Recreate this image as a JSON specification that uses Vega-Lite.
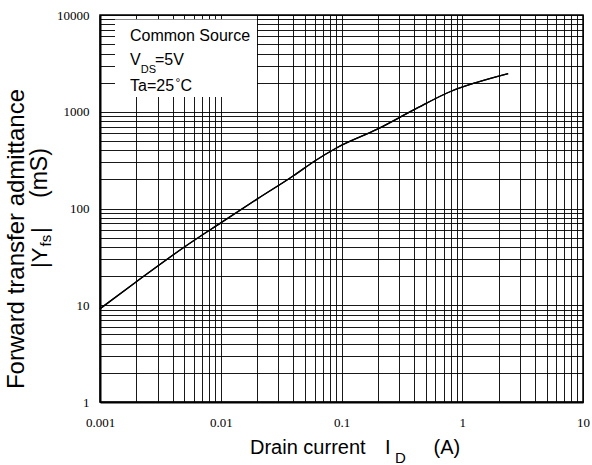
{
  "$schema": "https://vega.github.io/schema/vega-lite/v6.json",
  "autosize": {"type": "none"},
  "padding": {"left": 100, "top": 15, "right": 9, "bottom": 63},
  "width": 483,
  "height": 387,
  "background": "white",
  "data": {"values": [{}]},
  "config": {
    "view": {"stroke": "black", "strokeWidth": 1.5},
    "text": {"font": "Liberation Sans", "color": "black", "align": "left", "baseline": "alphabetic"}
  },
  "datasets": {
    "curve": [
      {"id": 0.001, "yfs": 9.2},
      {"id": 0.002, "yfs": 17.5},
      {"id": 0.005, "yfs": 40},
      {"id": 0.01, "yfs": 71},
      {"id": 0.02, "yfs": 125},
      {"id": 0.04, "yfs": 218},
      {"id": 0.06, "yfs": 310},
      {"id": 0.09, "yfs": 420},
      {"id": 0.2, "yfs": 665},
      {"id": 0.4, "yfs": 1050},
      {"id": 0.8, "yfs": 1620},
      {"id": 1.3, "yfs": 2000},
      {"id": 2.4, "yfs": 2480}
    ]
  },
  "layer": [
    {
      "data": {"name": "curve"},
      "mark": {"type": "line", "color": "black", "strokeWidth": 1.3, "interpolate": "monotone"},
      "encoding": {
        "x": {
          "field": "id", "type": "quantitative",
          "scale": {"type": "log", "domain": [0.001, 10], "nice": false},
          "axis": {
            "title": null,
            "values": [0.001,0.002,0.003,0.004,0.005,0.006,0.007,0.008,0.009,0.01,0.02,0.03,0.04,0.05,0.06,0.07,0.08,0.09,0.1,0.2,0.3,0.4,0.5,0.6,0.7,0.8,0.9,1,2,3,4,5,6,7,8,9,10],
            "grid": true, "gridColor": "black", "gridWidth": 1, "gridOpacity": 0.9,
            "ticks": false,
            "domain": true, "domainColor": "black", "domainWidth": 2,
            "labelExpr": "abs(log(datum.value)/LN10 - round(log(datum.value)/LN10)) < 0.001 ? toString(datum.value) : ''",
            "labelFont": "Liberation Serif", "labelFontSize": 13, "labelColor": "black",
            "labelPadding": 14, "labelOverlap": false, "labelFlush": false
          }
        },
        "y": {
          "field": "yfs", "type": "quantitative",
          "scale": {"type": "log", "domain": [1, 10000], "nice": false},
          "axis": {
            "title": null,
            "values": [1,2,3,4,5,6,7,8,9,10,20,30,40,50,60,70,80,90,100,200,300,400,500,600,700,800,900,1000,2000,3000,4000,5000,6000,7000,8000,9000,10000],
            "grid": true, "gridColor": "black", "gridWidth": 1, "gridOpacity": 0.9,
            "ticks": false,
            "domain": true, "domainColor": "black", "domainWidth": 2,
            "labelExpr": "abs(log(datum.value)/LN10 - round(log(datum.value)/LN10)) < 0.001 ? toString(datum.value) : ''",
            "labelFont": "Liberation Serif", "labelFontSize": 13, "labelColor": "black",
            "labelPadding": 11, "labelOverlap": false, "labelFlush": false
          }
        }
      }
    },
    {
      "mark": {"type": "rect", "fill": "white", "stroke": null},
      "encoding": {
        "x": {"datum": 0.001331, "type": "quantitative", "title": null},
        "x2": {"datum": 0.01996},
        "y": {"datum": 8985, "type": "quantitative", "title": null},
        "y2": {"datum": 1421}
      }
    },
    {
      "data": {"name": "curve"},
      "mark": {"type": "line", "color": "black", "strokeWidth": 1.3, "interpolate": "monotone"},
      "encoding": {
        "x": {"field": "id", "type": "quantitative", "title": null},
        "y": {"field": "yfs", "type": "quantitative", "title": null}
      }
    },
    {
      "mark": {"type": "text", "fontSize": 16, "text": "Common Source"},
      "encoding": {"x": {"datum": 0.001772, "type": "quantitative"}, "y": {"datum": 5426, "type": "quantitative"}}
    },
    {
      "mark": {"type": "text", "fontSize": 16, "text": "V"},
      "encoding": {"x": {"datum": 0.001772, "type": "quantitative"}, "y": {"datum": 3042, "type": "quantitative"}}
    },
    {
      "mark": {"type": "text", "fontSize": 11, "text": "DS"},
      "encoding": {"x": {"datum": 0.002173, "type": "quantitative"}, "y": {"datum": 2533, "type": "quantitative"}}
    },
    {
      "mark": {"type": "text", "fontSize": 16, "text": "=5V"},
      "encoding": {"x": {"datum": 0.002855, "type": "quantitative"}, "y": {"datum": 3042, "type": "quantitative"}}
    },
    {
      "mark": {"type": "text", "fontSize": 16, "text": "Ta=25"},
      "encoding": {"x": {"datum": 0.001772, "type": "quantitative"}, "y": {"datum": 1651, "type": "quantitative"}}
    },
    {
      "mark": {"type": "text", "fontSize": 12, "text": "°"},
      "encoding": {"x": {"datum": 0.00422, "type": "quantitative"}, "y": {"datum": 1790, "type": "quantitative"}}
    },
    {
      "mark": {"type": "text", "fontSize": 16, "text": "C"},
      "encoding": {"x": {"datum": 0.004642, "type": "quantitative"}, "y": {"datum": 1651, "type": "quantitative"}}
    },
    {
      "mark": {"type": "text", "fontSize": 20, "text": "Drain current"},
      "encoding": {"x": {"datum": 0.01747, "type": "quantitative"}, "y": {"datum": 0.2902, "type": "quantitative"}}
    },
    {
      "mark": {"type": "text", "fontSize": 20, "text": "I"},
      "encoding": {"x": {"datum": 0.2292, "type": "quantitative"}, "y": {"datum": 0.2902, "type": "quantitative"}}
    },
    {
      "mark": {"type": "text", "fontSize": 15, "text": "D"},
      "encoding": {"x": {"datum": 0.2773, "type": "quantitative"}, "y": {"datum": 0.2341, "type": "quantitative"}}
    },
    {
      "mark": {"type": "text", "fontSize": 20, "text": "(A)"},
      "encoding": {"x": {"datum": 0.5779, "type": "quantitative"}, "y": {"datum": 0.2902, "type": "quantitative"}}
    },
    {
      "mark": {"type": "text", "fontSize": 24, "angle": 270, "align": "center", "text": "Forward transfer admittance"},
      "encoding": {"x": {"datum": 0.0002348, "type": "quantitative"}, "y": {"datum": 48.4, "type": "quantitative"}}
    },
    {
      "mark": {"type": "text", "fontSize": 22, "angle": 270, "text": "|Y"},
      "encoding": {"x": {"datum": 0.000364, "type": "quantitative"}, "y": {"datum": 24.27, "type": "quantitative"}}
    },
    {
      "mark": {"type": "text", "fontSize": 15, "angle": 270, "text": "fs"},
      "encoding": {"x": {"datum": 0.000393, "type": "quantitative"}, "y": {"datum": 40.48, "type": "quantitative"}}
    },
    {
      "mark": {"type": "text", "fontSize": 22, "angle": 270, "text": "|"},
      "encoding": {"x": {"datum": 0.000364, "type": "quantitative"}, "y": {"datum": 55.8, "type": "quantitative"}}
    },
    {
      "mark": {"type": "text", "fontSize": 23, "angle": 270, "text": "(mS)"},
      "encoding": {"x": {"datum": 0.000364, "type": "quantitative"}, "y": {"datum": 128.4, "type": "quantitative"}}
    }
  ]
}
